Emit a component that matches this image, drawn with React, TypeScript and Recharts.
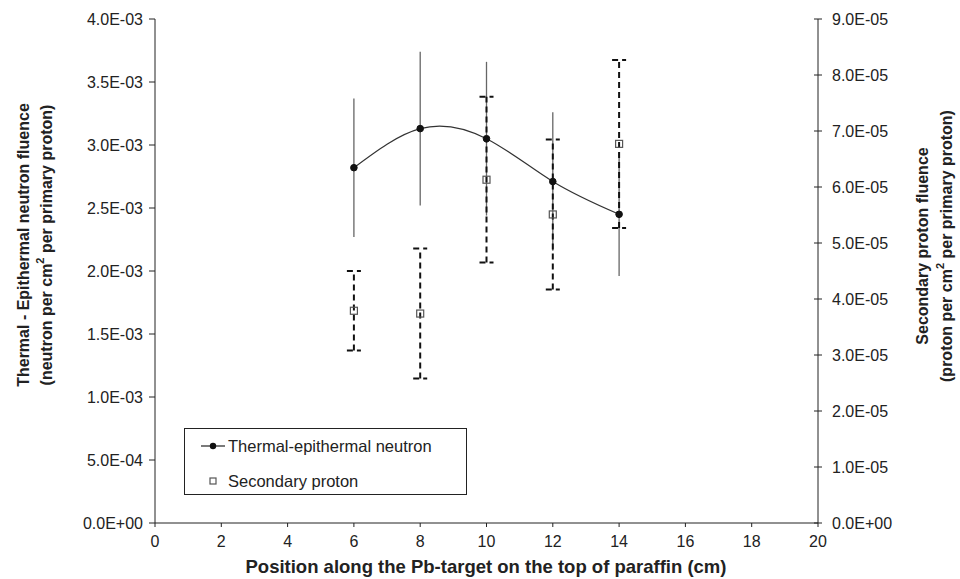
import React from 'react';
import { ComposedChart, Line, Scatter, XAxis, YAxis, ErrorBar, Legend } from 'recharts';

const positions = [6, 8, 10, 12, 14];
const neutronFluence = [2.82e-3, 3.13e-3, 3.05e-3, 2.71e-3, 2.45e-3];
const neutronError = [0.55e-3, 0.61e-3, 0.61e-3, 0.55e-3, 0.49e-3];
const protonFluence = [3.79e-5, 3.74e-5, 6.13e-5, 5.51e-5, 6.77e-5];
const protonError = [0.71e-5, 1.16e-5, 1.48e-5, 1.34e-5, 1.5e-5];

const xTicks = [0, 2, 4, 6, 8, 10, 12, 14, 16, 18, 20];
const leftTicks = [0, 0.0005, 0.001, 0.0015, 0.002, 0.0025, 0.003, 0.0035, 0.004];
const rightTicks = [0, 1e-5, 2e-5, 3e-5, 4e-5, 5e-5, 6e-5, 7e-5, 8e-5, 9e-5];

const rows = positions.map((x, i) => ({
  x,
  n: neutronFluence[i],
  nErr: neutronError[i],
  p: protonFluence[i],
  pErr: protonError[i],
}));

const FONT = 'Liberation Sans, Arial, sans-serif';
const TICK_FS = 16;

const fmt = (v: number) => {
  const [m, e] = v.toExponential(1).split('e');
  const n = parseInt(e, 10);
  return `${m}E${n < 0 ? '-' : '+'}${String(Math.abs(n)).padStart(2, '0')}`;
};

const RightTick = (props: any) => {
  const { x, y, payload } = props;
  const ax = x - 14;
  return (
    <g>
      <line x1={ax - 4} x2={ax + 4} y1={y} y2={y} stroke="#222" strokeWidth={1} />
      <text x={x} y={y} dy="0.35em" textAnchor="start" fontSize={TICK_FS} fill="#222" fontFamily={FONT}>
        {fmt(payload.value)}
      </text>
    </g>
  );
};

const LeftTitle = () => (
  <g fontFamily={FONT} fontWeight="bold" fontSize={16} fill="#222">
    <text transform="rotate(-90, 23, 245)" x={23} y={245} textAnchor="middle" dominantBaseline="central">
      Thermal - Epithermal neutron fluence
    </text>
    <text transform="rotate(-90, 46, 245)" x={46} y={245} textAnchor="middle" dominantBaseline="central">
      (neutron per cm<tspan dy={-6} fontSize={11}>2</tspan>
      <tspan dy={6}> per primary proton)</tspan>
    </text>
  </g>
);

const RightTitle = () => (
  <g fontFamily={FONT} fontWeight="bold" fontSize={16} fill="#222">
    <text transform="rotate(-90, 922, 246)" x={922} y={246} textAnchor="middle" dominantBaseline="central">
      Secondary proton fluence
    </text>
    <text transform="rotate(-90, 946, 246)" x={946} y={246} textAnchor="middle" dominantBaseline="central">
      (proton per cm<tspan dy={-6} fontSize={11}>2</tspan>
      <tspan dy={6}> per primary proton)</tspan>
    </text>
  </g>
);

const XTitle = () => (
  <text x={486} y={573} textAnchor="middle" fontFamily={FONT} fontWeight="bold" fontSize={18.5} fill="#222">
    Position along the Pb-target on the top of paraffin (cm)
  </text>
);

const HollowSquare = (props: any) => {
  const { cx, cy } = props;
  if (cx == null || cy == null) return null;
  return <rect x={cx - 3.5} y={cy - 3.5} width={7} height={7} fill="none" stroke="#555" strokeWidth={1.2} />;
};

const LegendBox = () => (
  <div
    style={{
      border: '1px solid #222',
      width: 283,
      height: 67,
      boxSizing: 'border-box',
      fontFamily: FONT,
      fontSize: 16.5,
      color: '#222',
      background: '#fff',
      position: 'relative',
    }}
  >
    <svg width={40} height={66} style={{ position: 'absolute', left: 0, top: 0 }}>
      <line x1={16} x2={42} y1={17} y2={17} stroke="#222" strokeWidth={1.2} />
      <circle cx={28} cy={17} r={3.2} fill="#111" />
      <rect x={25} y={49} width={6} height={6} fill="none" stroke="#555" strokeWidth={1.2} />
    </svg>
    <div style={{ position: 'absolute', left: 43, top: 7, lineHeight: '20px', whiteSpace: 'nowrap' }}>
      Thermal-epithermal neutron
    </div>
    <div style={{ position: 'absolute', left: 43, top: 42, lineHeight: '20px', whiteSpace: 'nowrap' }}>
      Secondary proton
    </div>
  </div>
);

export default function App() {
  return (
    <div style={{ position: 'absolute', left: 0, top: 0, width: 960, height: 579, background: '#fff' }}>
      <ComposedChart width={960} height={579} data={rows} margin={{ top: 19, right: 0, bottom: 0, left: 0 }}>
        <XAxis
          dataKey="x"
          type="number"
          domain={[0, 20]}
          ticks={xTicks}
          interval={0}
          height={56}
          stroke="#222"
          tickSize={4}
          tickMargin={9}
          tick={{ fontSize: TICK_FS, fill: '#222', fontFamily: FONT }}
          label={{ content: () => <XTitle /> }}
        />
        <YAxis
          yAxisId="left"
          orientation="left"
          type="number"
          domain={[0, 0.004]}
          ticks={leftTicks}
          interval={0}
          width={155}
          stroke="#222"
          tickSize={6}
          tickMargin={6}
          tickFormatter={fmt}
          tick={{ fontSize: TICK_FS, fill: '#222', fontFamily: FONT }}
          label={{ content: () => <LeftTitle /> }}
        />
        <YAxis
          yAxisId="right"
          orientation="right"
          type="number"
          domain={[0, 9e-5]}
          ticks={rightTicks}
          interval={0}
          width={142}
          stroke="#222"
          tickLine={false}
          tickSize={4}
          tickMargin={10}
          tick={<RightTick />}
          label={{ content: () => <RightTitle /> }}
        />
        <Line
          yAxisId="left"
          dataKey="n"
          stroke="none"
          dot={false}
          activeDot={false}
          legendType="none"
          isAnimationActive={false}
        >
          <ErrorBar dataKey="nErr" direction="y" width={0} stroke="#666" strokeWidth={1.3} />
        </Line>
        <Scatter
          yAxisId="right"
          dataKey="p"
          name="Secondary proton"
          shape={<HollowSquare />}
          isAnimationActive={false}
        >
          <ErrorBar dataKey="pErr" direction="y" width={7} stroke="#111" strokeWidth={2} strokeDasharray="6 4" />
        </Scatter>
        <Line
          yAxisId="left"
          dataKey="n"
          name="Thermal-epithermal neutron"
          type="natural"
          stroke="#333"
          strokeWidth={1.2}
          dot={{ r: 3.3, fill: '#111', stroke: '#111', strokeWidth: 1 }}
          activeDot={false}
          isAnimationActive={false}
        />
        <Legend
          layout="vertical"
          align="center"
          verticalAlign="middle"
          wrapperStyle={{ position: 'absolute', left: 184, top: 428, width: 283, height: 67 }}
          content={() => <LegendBox />}
        />
      </ComposedChart>
    </div>
  );
}
